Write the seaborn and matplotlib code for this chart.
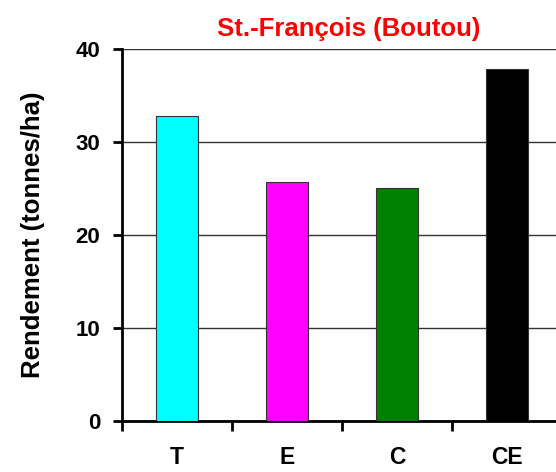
import matplotlib
matplotlib.use("Agg")
import matplotlib.pyplot as plt
import seaborn as sns
import pandas as pd

traitements = ["T", "E", "C", "CE"]
rendement = [32.8, 25.7, 25.0, 37.8]
couleurs = ["#00FFFF", "#FF00FF", "#008000", "#000000"]

df = pd.DataFrame({"Traitement": traitements, "Rendement": rendement})

sns.set_style("white")
plt.rcParams["font.family"] = ["Liberation Sans", "DejaVu Sans"]
plt.rcParams["text.color"] = "black"
plt.rcParams["xtick.color"] = "black"
plt.rcParams["ytick.color"] = "black"
plt.rcParams["axes.labelcolor"] = "black"

fig = plt.figure(figsize=(5.56, 4.72), dpi=100)
ax = fig.add_axes([122 / 556, 51 / 472, 440 / 556, 372 / 472])

sns.barplot(data=df, x="Traitement", y="Rendement", hue="Traitement",
            palette=couleurs, saturation=1, width=0.38, edgecolor="#333333",
            linewidth=0.8, legend=False, ax=ax, zorder=3)

ax.set_xlim(-0.5, 3.5)
ax.set_ylim(0, 40)
ax.set_yticks([0, 10, 20, 30, 40])
ax.yaxis.grid(True, color="#333333", linewidth=1.0, zorder=0)
ax.set_axisbelow(True)

# ticks between categories, labels centred under bars
ax.set_xticks([-0.5, 0.5, 1.5, 2.5, 3.5])
ax.set_xticklabels([])
ax.set_xticks([0, 1, 2, 3], minor=True)
ax.set_xticklabels(traitements, minor=True, fontsize=16.5, fontweight="bold")
ax.tick_params(axis="x", which="major", direction="out", length=7, width=2, bottom=True)
ax.tick_params(axis="x", which="minor", length=0, pad=18)
ax.tick_params(axis="y", direction="out", length=6.5, width=2, left=True,
               labelsize=16, pad=9)
for lab in ax.get_yticklabels():
    lab.set_fontweight("bold")

for s in ["top", "right"]:
    ax.spines[s].set_visible(False)
for s in ["left", "bottom"]:
    ax.spines[s].set_color("black")
    ax.spines[s].set_linewidth(2)

ax.set_xlabel("")
ax.set_ylabel("Rendement (tonnes/ha)", fontsize=18.5, fontweight="bold", labelpad=22)
fig.text(0.627, 0.938, "St.-François (Boutou)", color="red", fontsize=18.5,
         fontweight="bold", ha="center", va="center")

fig.savefig("out.png", dpi=100)
